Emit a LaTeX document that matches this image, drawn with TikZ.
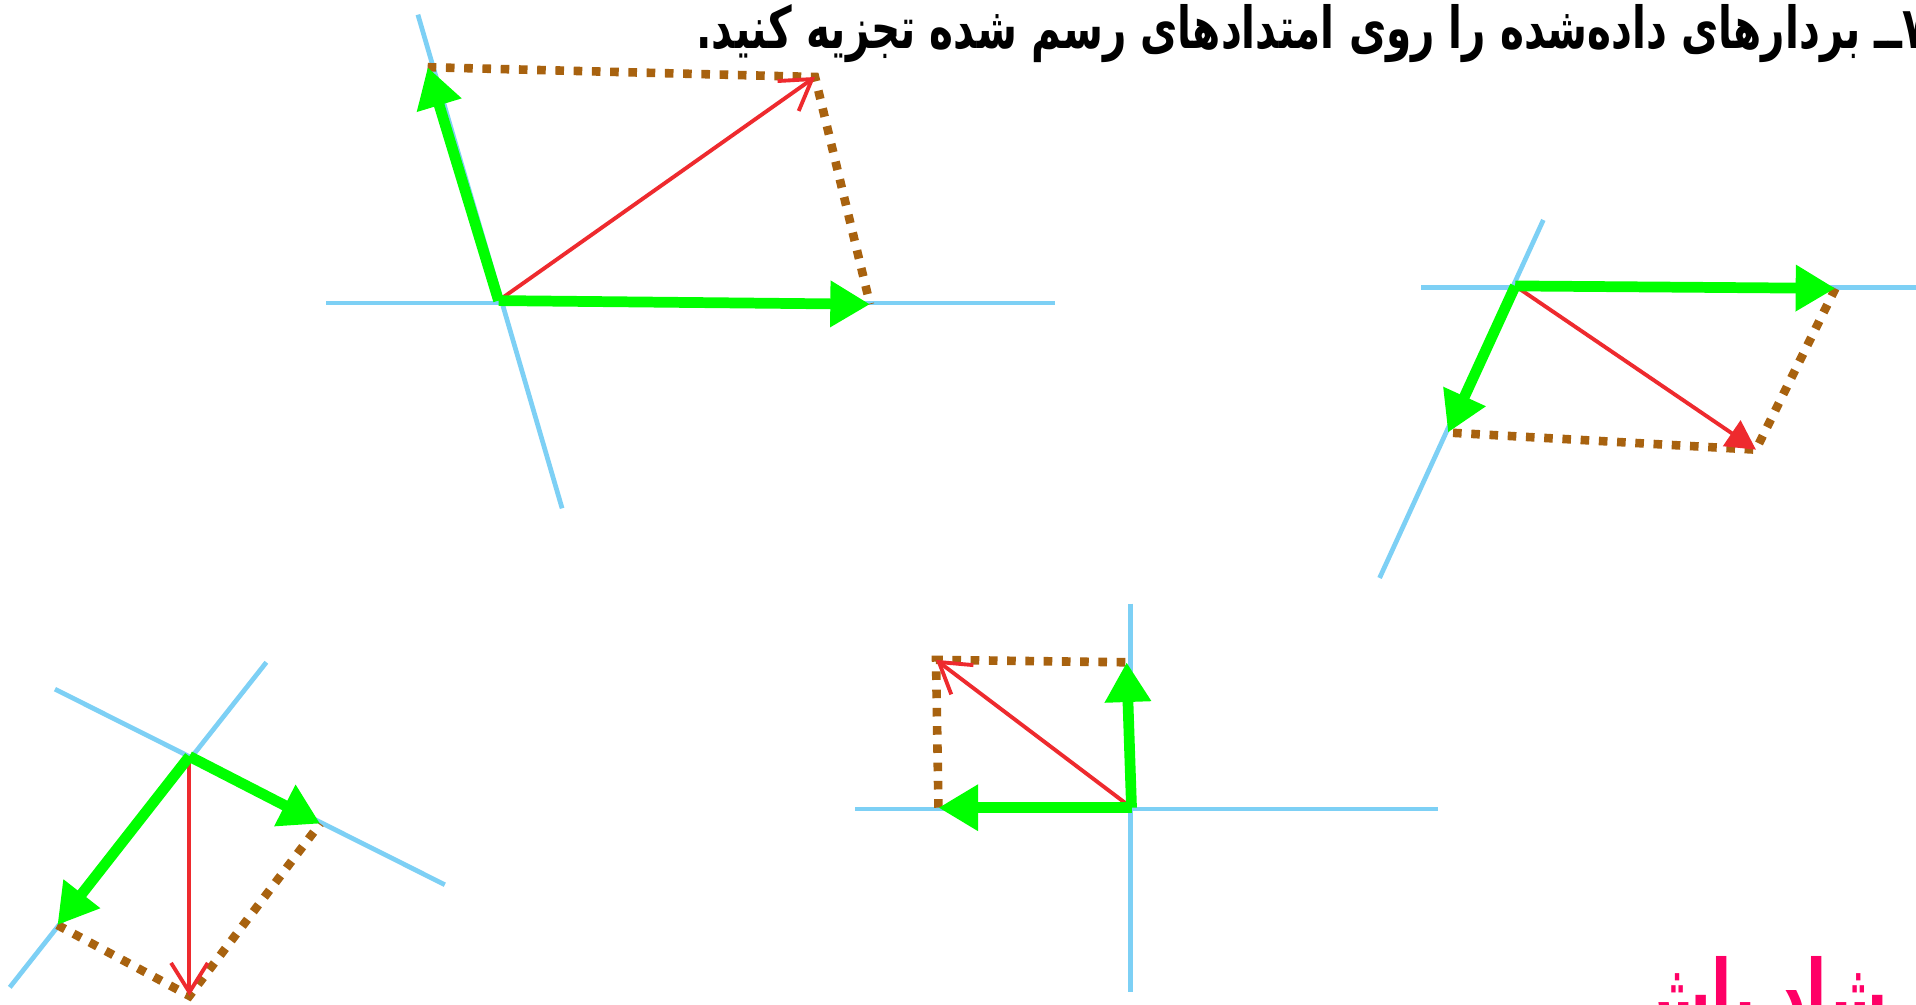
\documentclass[tikz,border=0pt]{standalone}
\usepackage{fontspec}
\usetikzlibrary{arrows.meta}
\newfontfamily\arabicfont[Script=Arabic]{DejaVu Sans}
\TeXXeTstate=1
\definecolor{axisblue}{HTML}{7DD0F5}
\definecolor{compgreen}{HTML}{00FF00}
\definecolor{vecred}{HTML}{EE2A2E}
\definecolor{guidebrown}{HTML}{A8620F}
\definecolor{wishpink}{HTML}{FF0066}

\begin{document}
\begin{tikzpicture}[
    axis/.style={draw=axisblue, line width=2.2pt},
    comp/.style={draw=compgreen, line width=5pt,
                 -{Triangle[length=0.65cm, width=0.72cm]}},
    vec/.style={draw=vecred, line width=1.8pt,
                -{Straight Barb[length=0.48cm, width=0.6cm, line width=1.8pt]}},
    vecfill/.style={draw=vecred, line width=1.8pt,
                -{Triangle[length=0.48cm, width=0.5cm]}},
    guide/.style={draw=guidebrown, line width=4pt, dash pattern=on 4pt off 4.5pt}
]

\fill[white] (0,0) rectangle (31.36,16.44);
\useasboundingbox (0,0) rectangle (31.36,16.44);

%% --- Titlu ---
\node[anchor=base east, inner sep=0pt, font=\arabicfont\bfseries\fontsize{27}{32}\selectfont]
    (task) at (31.55, 15.64)
    {\scalebox{0.7}[1]{\beginR ۷ــ بردارهای داده‌شده را روی امتدادهای رسم شده تجزیه کنید.\endR}};

%% --- Desen 1 (sus, stanga) ---
\coordinate (o1)  at (8.16, 11.52);
\coordinate (h1a) at (5.34, 11.48);
\coordinate (h1b) at (17.26, 11.48);
\coordinate (s1a) at (6.84, 16.20);
\coordinate (s1b) at (9.20, 8.12);
\coordinate (g1a) at (7.00, 15.34);
\coordinate (g1b) at (14.24, 11.46);
\coordinate (r1)  at (13.34, 15.18);

\draw[axis]  (h1a) -- (h1b);
\draw[axis]  (s1a) -- (s1b);
\draw[guide] (g1a) -- (r1) -- (g1b);
\draw[vec]   (o1) -- (r1);
\draw[comp]  (o1) -- (g1a);
\draw[comp]  (o1) -- (g1b);

%% --- Desen 2 (sus, dreapta) ---
\coordinate (o2)  at (24.80, 11.76);
\coordinate (h2a) at (23.26, 11.74);
\coordinate (h2b) at (31.36, 11.74);
\coordinate (s2a) at (25.26, 12.84);
\coordinate (s2b) at (22.58, 6.98);
\coordinate (g2a) at (30.04, 11.72);
\coordinate (g2b) at (23.70, 9.36);
\coordinate (r2)  at (28.74, 9.08);

\draw[axis]    (h2a) -- (h2b);
\draw[axis]    (s2a) -- (s2b);
\draw[guide]   (g2a) -- (r2) -- (g2b);
\draw[vecfill] (o2) -- (r2);
\draw[comp]    (o2) -- (g2a);
\draw[comp]    (o2) -- (g2b);

%% --- Desen 3 (jos, stanga) ---
\coordinate (o3)  at (3.10, 4.06);
\coordinate (s3a) at (0.90, 5.16);
\coordinate (s3b) at (7.28, 1.96);
\coordinate (t3a) at (4.36, 5.60);
\coordinate (t3b) at (0.16, 0.28);
\coordinate (g3a) at (0.94, 1.30);
\coordinate (g3b) at (5.24, 2.96);
\coordinate (r3)  at (3.10, 0.14);

\draw[axis]  (s3a) -- (s3b);
\draw[axis]  (t3a) -- (t3b);
\draw[guide] (g3a) -- (r3) -- (g3b);
\draw[vec]   (o3) -- (r3);
\draw[comp]  (o3) -- (g3a);
\draw[comp]  (o3) -- (g3b);

%% --- Desen 4 (jos, mijloc) ---
\coordinate (o4)  at (18.52, 3.22);
\coordinate (h4a) at (14.00, 3.20);
\coordinate (h4b) at (23.54, 3.20);
\coordinate (v4a) at (18.50, 6.56);
\coordinate (v4b) at (18.50, 0.20);
\coordinate (g4a) at (18.44, 5.60);
\coordinate (g4b) at (15.36, 3.22);
\coordinate (r4)  at (15.32, 5.64);

\draw[axis]  (h4a) -- (h4b);
\draw[axis]  (v4a) -- (v4b);
\draw[guide] (g4b) -- (r4) -- (g4a);
\draw[vec]   (o4) -- (r4);
\draw[comp]  (o4) -- (g4a);
\draw[comp]  (o4) -- (g4b);

%% --- Text roz (taiat jos) ---
\node[anchor=base east, inner sep=0pt, text=wishpink,
      font=\arabicfont\bfseries\fontsize{46}{54}\selectfont]
    (wish) at (30.9, -0.45) {\scalebox{0.6}[1]{\beginR شاد باش\endR}};

\end{tikzpicture}
\end{document}
